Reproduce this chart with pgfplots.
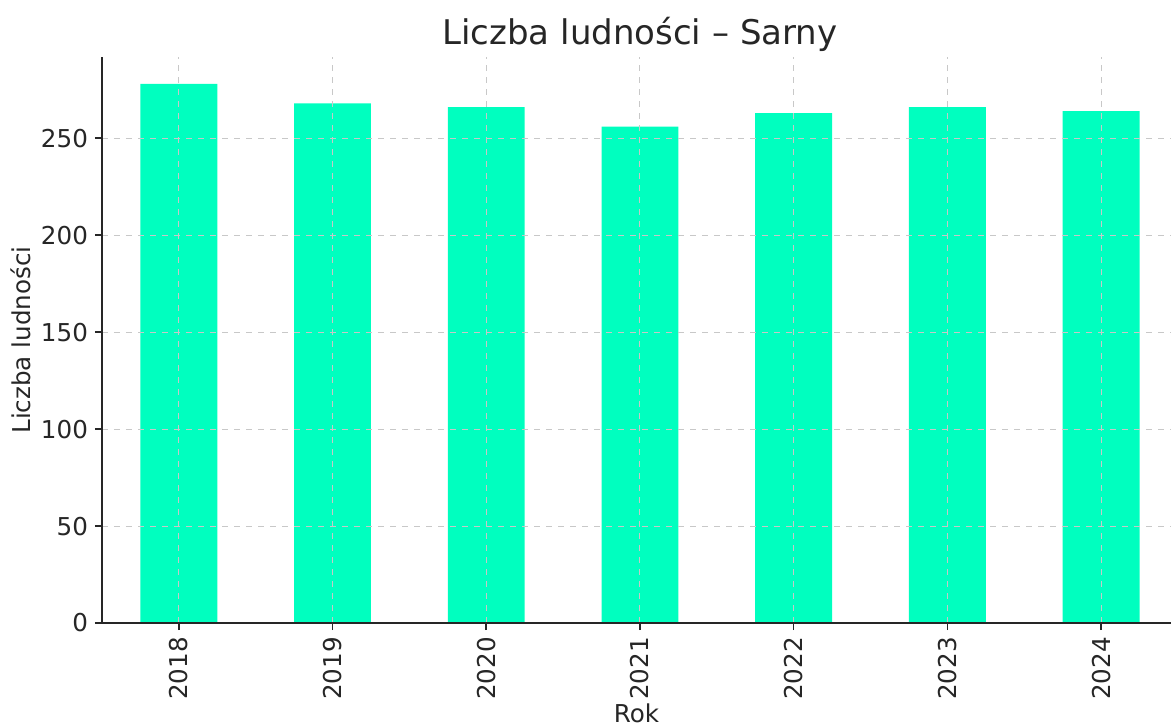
\documentclass[border=0pt]{standalone}
\usepackage{fontspec}
\setmainfont{DejaVu Sans}
\usepackage{pgfplots}
\pgfplotsset{compat=1.18}
\usetikzlibrary{calc}
\definecolor{barcol}{RGB}{0,255,191}
\definecolor{txt}{RGB}{38,38,38}
\definecolor{gridc}{RGB}{200,200,200}

\begin{document}
\begin{tikzpicture}
\begin{axis}[
scale only axis,
width=534.5pt,
height=283pt,
xmin=-0.5,xmax=6.455,
ymin=0,ymax=291.9,
axis x line*=bottom,
axis y line*=left,
axis line style={txt,line width=0.8pt},
axis on top,
ybar,
bar width=0.5,
xtick={0,...,6},
xticklabels={2018,2019,2020,2021,2022,2023,2024},
x tick label style={rotate=90,anchor=east},
ytick={0,50,...,250},
tick align=outside,
major tick length=3.5pt,
tick style={txt,line width=0.8pt},
grid=major,
major grid style={gridc,dashed,line width=0.5pt},
ticklabel style={font=\fontsize{12.3}{14}\selectfont,text=txt},
/pgf/number format/assume math mode=true,
label style={font=\fontsize{12.3}{14}\selectfont,text=txt},
xlabel={Rok},
xlabel style={yshift=5pt},
ylabel={Liczba ludności},
ylabel style={yshift=-2pt},
title={Liczba ludności – Sarny},
title style={font=\fontsize{17}{20}\selectfont,text=txt,at={(axis cs:3,291.9)},anchor=base,yshift=0pt},
]
\addplot[fill=barcol,draw=none] coordinates {
(0,278)(1,268)(2,266)(3,256)(4,263)(5,266)(6,264)};
\coordinate (bl) at (rel axis cs:0,0);
\coordinate (tr) at (rel axis cs:1,1);
\end{axis}
\pgfresetboundingbox
\path ($(bl)+(-51pt,-51.85pt)$) rectangle ($(tr)+(0,28.5pt)$);
\end{tikzpicture}
\end{document}
